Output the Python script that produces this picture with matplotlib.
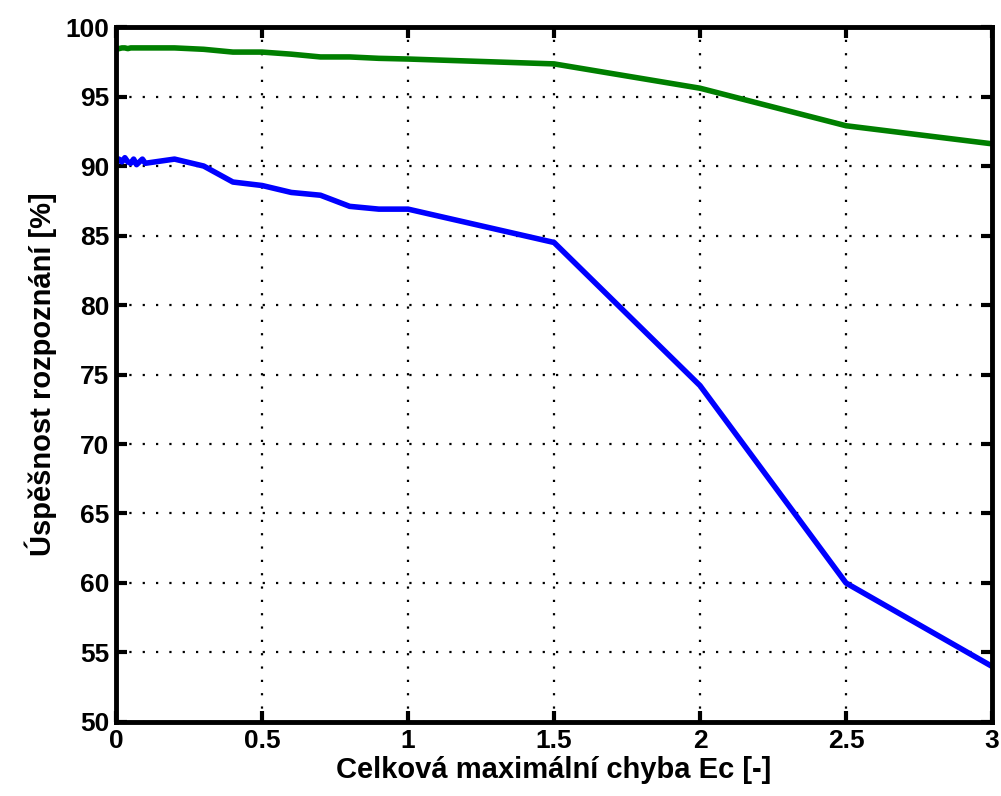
import numpy as np
import matplotlib.pyplot as plt

# data
x_vals = [0, 0.01, 0.02, 0.03, 0.04, 0.05, 0.06, 0.07, 0.08, 0.09, 0.1,
          0.2, 0.3, 0.4, 0.5, 0.6, 0.7, 0.8, 0.9, 1.0, 1.5, 2.0, 2.5, 3.0]
green_vals = [98.4, 98.45, 98.5, 98.5, 98.45, 98.5, 98.5, 98.5, 98.5, 98.5, 98.5,
              98.5, 98.4, 98.2, 98.2, 98.05, 97.85, 97.85, 97.75, 97.7, 97.35, 95.6, 92.9, 91.6]
blue_vals = [90.2, 90.5, 90.3, 90.6, 90.3, 90.2, 90.5, 90.1, 90.3, 90.5, 90.2,
             90.5, 90.0, 88.85, 88.6, 88.1, 87.9, 87.1, 86.9, 86.9, 84.5, 74.2, 60.0, 54.0]

x_ticks = [0, 0.5, 1, 1.5, 2, 2.5, 3]
x_tick_labels = ['0', '0.5', '1', '1.5', '2', '2.5', '3']
y_ticks = [50, 55, 60, 65, 70, 75, 80, 85, 90, 95, 100]

plt.rcParams['font.family'] = ['Liberation Sans', 'DejaVu Sans']
plt.rcParams['font.weight'] = 'bold'

fig = plt.figure(figsize=(10.01, 7.96), dpi=100)
ax = fig.add_axes([0.116, 0.093, 0.875, 0.873])

ax.plot(x_vals, blue_vals, color='#0000ff', lw=4, solid_joinstyle='round')
ax.plot(x_vals, green_vals, color='#007f00', lw=4, solid_joinstyle='round')

ax.set_xlim(0, 3)
ax.set_ylim(50, 100)
ax.set_xticks(x_ticks)
ax.set_xticklabels(x_tick_labels)
ax.set_yticks(y_ticks)
ax.grid(True, color='black', linestyle=(0, (1, 5)), linewidth=1.6)

for sp in ax.spines.values():
    sp.set_linewidth(3.5)
ax.tick_params(direction='in', length=8, width=3, top=True, right=True,
               labelsize=19, pad=5)
for lbl in ax.get_xticklabels() + ax.get_yticklabels():
    lbl.set_fontweight('bold')

ax.set_xlabel('Celková maximální chyba Ec [-]', fontsize=21, fontweight='bold', labelpad=2)
ax.set_ylabel('Úspěšnost rozpoznání [%]', fontsize=21, fontweight='bold', labelpad=6)

fig.savefig('out.png', dpi=100)
